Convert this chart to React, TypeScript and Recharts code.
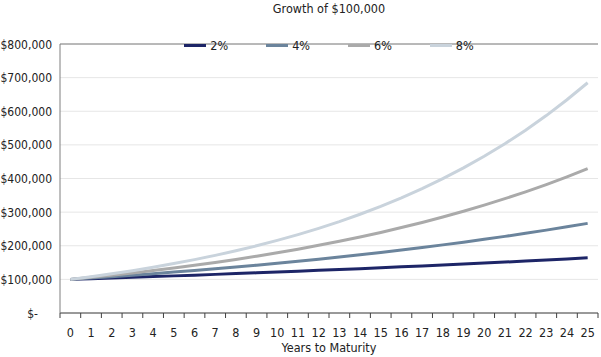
import React from "react";
import {
  LineChart,
  Line,
  XAxis,
  YAxis,
  CartesianGrid,
  Legend,
  ReferenceLine,
  Label,
} from "recharts";

const years = ["0","1","2","3","4","5","6","7","8","9","10","11","12","13","14","15","16","17","18","19","20","21","22","23","24","25"];
const rate2 = [100000,102000,104040,106121,108243,110408,112616,114869,117166,119509,121899,124337,126824,129361,131948,134587,137279,140024,142825,145681,148595,151567,154598,157690,160844,164061];
const rate4 = [100000,104000,108160,112486,116986,121665,126532,131593,136857,142331,148024,153945,160103,166507,173168,180094,187298,194790,202582,210685,219112,227877,236992,246472,256330,266584];
const rate6 = [100000,106000,112360,119102,126248,133823,141852,150363,159385,168948,179085,189830,201220,213293,226090,239656,254035,269277,285434,302560,320714,339956,360354,381975,404893,429187];
const rate8 = [100000,108000,116640,125971,136049,146933,158687,171382,185093,199900,215892,233164,251817,271962,293719,317217,342594,370002,399602,431570,466096,503383,543654,587146,634118,684848];
const yTicks = [0,100000,200000,300000,400000,500000,600000,700000,800000];
const seriesNames = ["2%","4%","6%","8%"];
const seriesKeys = ["r2","r4","r6","r8"];
const seriesColors = ["#1d2567","#6b849c","#aaaaaa","#c9d3dc"];

const data = years.map((y, i) => ({
  year: y,
  r2: rate2[i],
  r4: rate4[i],
  r6: rate6[i],
  r8: rate8[i],
}));

const FONT = "'DejaVu Sans Condensed', 'DejaVu Sans', sans-serif";
const FS = 12.5;
const TXT: React.CSSProperties = { fontFamily: FONT, fontStretch: "condensed", fontSize: FS };
const YTXT: React.CSSProperties = { fontFamily: FONT, fontStretch: "condensed", fontSize: 12 };
const W = 601;
const H = 357;
const LEFT = 60;
const RIGHT = 3;
const PLOT_W = W - LEFT - RIGHT;
const HALF = PLOT_W / years.length / 2;

const fmt = (v: number) =>
  v === 0 ? "$-" : "$" + v.toLocaleString("en-US");

const YTick = (props: any) => {
  const { x, y, payload } = props;
  const v = payload.value;
  return (
    <text
      x={v === 0 ? x - 14 : x}
      y={y}
      dy={4.5}
      textAnchor="end"
      style={YTXT}
      fill="#222"
    >
      {fmt(v)}
    </text>
  );
};

const XTick = (props: any) => {
  const { x, y, payload, index } = props;
  const axisY = y - 8;
  return (
    <g>
      <line x1={x - HALF} x2={x - HALF} y1={axisY} y2={axisY + 5} stroke="#404040" strokeWidth={1} />
      {index === years.length - 1 && (
        <line x1={x + HALF} x2={x + HALF} y1={axisY} y2={axisY + 5} stroke="#404040" strokeWidth={1} />
      )}
      <text x={x} y={y + 16} textAnchor="middle" style={TXT} fill="#222">
        {payload.value}
      </text>
    </g>
  );
};

const LegendContent = () => (
  <div style={{ display: "flex", justifyContent: "center", ...TXT, color: "#222" }}>
    {seriesNames.map((n, i) => (
      <div key={n} style={{ display: "flex", alignItems: "center", marginLeft: i === 0 ? 0 : 38 }}>
        <div style={{ width: 22, height: 3, background: seriesColors[i], marginRight: 4 }} />
        <span>{n}</span>
      </div>
    ))}
  </div>
);

export default function App() {
  return (
    <div style={{ position: "absolute", left: 0, top: 0, width: W, height: H, background: "#fff" }}>
      <div
        style={{
          position: "absolute",
          top: 1,
          left: LEFT,
          width: PLOT_W,
          textAlign: "center",
          ...TXT,
          color: "#222",
          zIndex: 2,
        }}
      >
        Growth of $100,000
      </div>
      <LineChart width={W} height={H} data={data} margin={{ top: 29, right: RIGHT, bottom: 0, left: 0 }}>
        <CartesianGrid vertical={false} stroke="#e6e6e6" />
        <XAxis
          dataKey="year"
          height={44}
          padding={{ left: HALF, right: HALF }}
          tickLine={false}
          axisLine={{ stroke: "#404040" }}
          tick={<XTick />}
          interval={0}
        >
          <Label value="Years to Maturity" position="insideBottom" offset={5} style={TXT} fill="#222" />
        </XAxis>
        <YAxis
          width={LEFT}
          domain={[0, 800000]}
          ticks={yTicks}
          tickLine={false}
          axisLine={{ stroke: "#7f7f7f" }}
          tick={<YTick />}
          interval={0}
        />
        <YAxis
          yAxisId="r"
          orientation="right"
          width={0}
          domain={[0, 800000]}
          tick={false}
          tickLine={false}
          axisLine={{ stroke: "#7f7f7f" }}
        />
        <ReferenceLine y={800000} stroke="#7f7f7f" />
        <Legend
          verticalAlign="top"
          content={<LegendContent />}
          wrapperStyle={{ top: 38, left: LEFT, width: PLOT_W }}
        />
        {seriesKeys.map((k, i) => (
          <Line
            key={k}
            dataKey={k}
            name={seriesNames[i]}
            stroke={seriesColors[i]}
            strokeWidth={3}
            dot={false}
            activeDot={false}
            type="linear"
            isAnimationActive={false}
          />
        ))}
      </LineChart>
    </div>
  );
}
